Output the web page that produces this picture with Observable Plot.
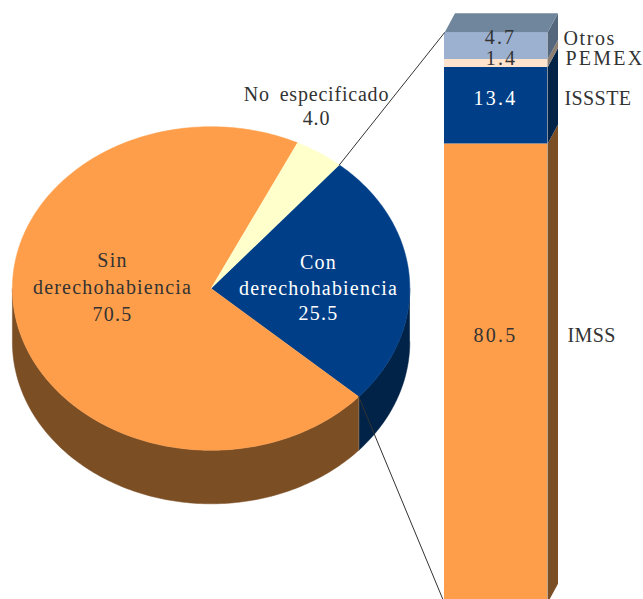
<!DOCTYPE html>
<html><head><meta charset="utf-8">
<script src="https://cdn.jsdelivr.net/npm/d3@7"></script>
<script src="https://cdn.jsdelivr.net/npm/@observablehq/plot@0.6"></script>
<style>html,body{margin:0;padding:0;background:#fff;overflow:hidden}svg{display:block}
.ls06{letter-spacing:.4px}.ls12{letter-spacing:1.2px}.ls16{letter-spacing:1.6px}.ls2{letter-spacing:2.2px}
.ws{word-spacing:4px;letter-spacing:.8px}</style>
</head><body><div id="chart"></div>
<script>
// Data
const pieCategories = ["Con derechohabiencia", "Sin derechohabiencia", "No especificado"];
const pieValues = [25.5, 70.5, 4.0];
const barCategories = ["IMSS", "ISSSTE", "PEMEX", "Otros"];
const barValues = [80.5, 13.4, 1.4, 4.7];

// Styles
const pieFill = ["#003f87", "#ff9e4a", "#ffffcc"];
const pieWall = ["#002347", "#7b4e24", "#7b4e24"];
const barFill = ["#ff9e4a", "#003f87", "#ffe3cc", "#9cb0d0"];
const barSide = ["#7b4e24", "#002347", "#8c7f72", "#55677c"];
const barTopFill = "#6f869d";

// Layout. The y scale is in percent of the stacked bar.
const W = 643, H = 599;
const pxPerUnit = 5.705, y0px = 602.7;
const toY = px => (y0px - px) / pxPerUnit;
const cx = 210.6, cy = toY(288), rx = 198.7, ry = 161.8 / pxPerUnit, depth = 53.5 / pxPerUnit;
const startDeg = 40.2;
const barL = 444, barR = 547, sideDx = 10.5, sideDy = 19.5 / pxPerUnit;

const rad = d => d * Math.PI / 180;
const ex = t => cx + rx * Math.sin(rad(t));
const ey = t => cy + ry * Math.cos(rad(t));
const arcSteps = (a, b) => { const n = Math.max(2, Math.ceil(Math.abs(b - a))); return d3.range(n + 1).map(i => a + (b - a) * i / n); };

// Pie slices from values
const total = d3.sum(pieValues);
let acc = startDeg;
const slices = pieValues.map((v, i) => { const a0 = acc; acc += v / total * 360; return {i, a0, a1: acc}; });

const topPts = slices.flatMap(s => [
  {k: s.i, x: cx, y: cy, f: pieFill[s.i]},
  ...arcSteps(s.a0, s.a1).map(t => ({k: s.i, x: ex(t), y: ey(t), f: pieFill[s.i]}))
]);
// Visible wall: front half of the rim (90..270 degrees)
const wallPts = slices.flatMap(s => {
  const walls = [];
  for (const shift of [0, 360]) {
    const a = Math.max(s.a0, 90 + shift), b = Math.min(s.a1, 270 + shift);
    if (b > a) {
      const ts = arcSteps(a, b);
      walls.push(...ts.map(t => ({k: s.i, x: ex(t), y: ey(t), f: pieWall[s.i]})),
                 ...ts.slice().reverse().map(t => ({k: s.i, x: ex(t), y: ey(t) - depth, f: pieWall[s.i]})));
    }
  }
  return walls;
});
const seamAngle = slices[0].a1;
const seam = [{x: ex(seamAngle), y: ey(seamAngle)}, {x: ex(seamAngle), y: ey(seamAngle) - depth}];

// Bar faces from the stack
const stackEnds = d3.cumsum(barValues);
const barRows = barCategories.map((c, i) => ({c, v: barValues[i], f: barFill[i]}));
const sidePts = barCategories.flatMap((c, i) => {
  const y1 = stackEnds[i], y0 = y1 - barValues[i], f = barSide[i];
  return [[barR, y0], [barR + sideDx, y0 + sideDy], [barR + sideDx, y1 + sideDy], [barR, y1]]
    .map(([x, y]) => ({k: c, x, y, f}));
});
const stackTop = d3.sum(barValues);
const topFace = [[barL, stackTop], [barR, stackTop], [barR + sideDx, stackTop + sideDy], [barL + sideDx, stackTop + sideDy]]
  .map(([x, y]) => ({x, y}));

// Connectors from the navy slice edges to the bar corners
const conn = [
  {k: 0, x: ex(slices[0].a0), y: ey(slices[0].a0)}, {k: 0, x: barL, y: stackTop},
  {k: 1, x: ex(slices[0].a1), y: ey(slices[0].a1)}, {k: 1, x: barL, y: 0}
];

const ink = "#333333";
const font = {fontFamily: "'Liberation Serif','Times New Roman',serif", fontSize: 20};
const pxText = (label, xp, yp, cls, opt = {}) => Plot.text([label], {
  x: () => xp, y: () => toY(yp), text: d => d, fill: ink, stroke: null,
  textAnchor: "middle", lineAnchor: "middle", className: cls, ...font, ...opt
});

const plot = Plot.plot({
  width: W, height: H, margin: 0,
  style: {background: "transparent"},
  x: {domain: [0, W], range: [0, W], axis: null},
  y: {domain: [0, 100], range: [y0px, y0px - 100 * pxPerUnit], axis: null},
  marks: [
    Plot.line(wallPts, {x: "x", y: "y", z: "k", fill: "f", stroke: "f", strokeWidth: 0.5, curve: "linear"}),
    Plot.line(seam, {x: "x", y: "y", stroke: "#8a6a4a", strokeWidth: 1}),
    Plot.line(topPts, {x: "x", y: "y", z: "k", fill: "f", stroke: "f", strokeWidth: 0.5, curve: "linear"}),
    Plot.line(sidePts, {x: "x", y: "y", z: "k", fill: "f", stroke: null}),
    Plot.line(topFace, {x: "x", y: "y", fill: barTopFill, stroke: null}),
    Plot.rectY(barRows, {x1: () => barL, x2: () => barR, y: "v", fill: "f", order: null}),
    Plot.line(conn, {x: "x", y: "y", z: "k", stroke: ink, strokeWidth: 1}),
    pxText("Sin\nderechohabiencia\n" + pieValues[1].toFixed(1), 112, 285, "ls12", {lineHeight: 1.33}),
    pxText("Con\nderechohabiencia\n" + pieValues[0].toFixed(1), 318, 286, "ls12", {lineHeight: 1.28, fill: "#ffffff"}),
    pxText("No especificado\n" + pieValues[2].toFixed(1), 316, 105, "ws", {lineHeight: 1.2}),
    pxText(barValues[3].toFixed(1), 500, 37, "ls2"),
    pxText(barValues[2].toFixed(1), 501, 58, "ls2"),
    pxText(barValues[1].toFixed(1), 495, 98, "ls2", {fill: "#ffffff"}),
    pxText(barValues[0].toFixed(1), 495, 335, "ls2"),
    pxText(barCategories[3], 563, 38, "ls16", {textAnchor: "start"}),
    pxText(barCategories[2], 565, 58, "ls2", {textAnchor: "start"}),
    pxText(barCategories[1], 564, 98, "ls06", {textAnchor: "start"}),
    pxText(barCategories[0], 567, 335, "ls06", {textAnchor: "start"})
  ]
});
document.getElementById("chart").append(plot);
</script></body></html>
